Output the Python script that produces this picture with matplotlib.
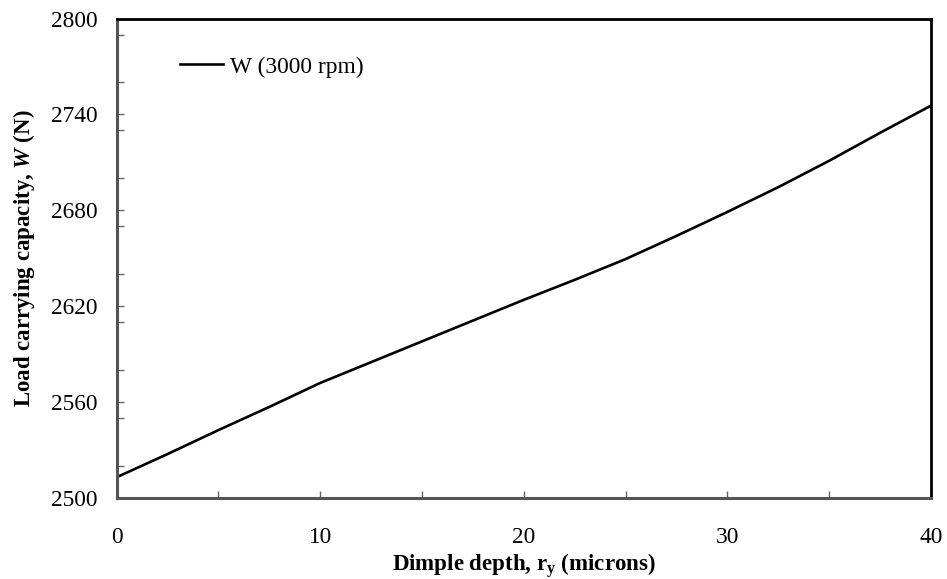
import matplotlib
matplotlib.use("Agg")
import matplotlib.pyplot as plt
from matplotlib.ticker import MultipleLocator

plt.rcParams['font.family'] = ['Liberation Serif', 'DejaVu Serif']
plt.rcParams['mathtext.fontset'] = 'custom'
plt.rcParams['mathtext.rm'] = 'Liberation Serif'
plt.rcParams['mathtext.it'] = 'Liberation Serif:italic'
plt.rcParams['mathtext.bf'] = 'Liberation Serif:bold'
plt.rcParams['mathtext.bfit'] = 'Liberation Serif:italic:bold'

# Data
dimple_depth = [0, 2.5, 5, 7.5, 10, 12.5, 15, 17.5, 20, 22.5, 25, 27.5, 30,
                32.5, 35, 37.5, 40]
load_capacity = [2513, 2527.5, 2542.5, 2557, 2572, 2585, 2598, 2611, 2624,
                 2636.5, 2649.5, 2664, 2679, 2694.5, 2711, 2728.5, 2745.5]
series_label = "W (3000 rpm)"
x_ticks = [0, 10, 20, 30, 40]
y_ticks = [2500, 2560, 2620, 2680, 2740, 2800]

fig = plt.figure(figsize=(9.47, 5.79), dpi=100)
ax = fig.add_axes([0.1232, 0.1399, 0.8599, 0.8281])

ax.plot(dimple_depth, load_capacity, color='black', lw=1.9, label=series_label)

ax.set_xlim(0, 40)
ax.set_ylim(2500, 2800)
ax.set_xticks(x_ticks)
ax.set_yticks(y_ticks)
ax.xaxis.set_minor_locator(MultipleLocator(5))
ax.yaxis.set_minor_locator(MultipleLocator(30))

ax.tick_params(axis='both', which='both', direction='in', length=5, width=1,
               color='#666666', labelsize=16.8)
ax.tick_params(axis='x', which='both', pad=21)
ax.tick_params(axis='y', which='both', pad=14)

for side in ['left', 'bottom']:
    ax.spines[side].set_color('#555555')
    ax.spines[side].set_linewidth(2.2)
for side in ['top', 'right']:
    ax.spines[side].set_color('black')
    ax.spines[side].set_linewidth(2.0)

ax.set_xlabel(r'Dimple depth, r$_\mathbf{y}$ (microns)', fontsize=16.5,
              fontweight='bold', labelpad=2)
ax.set_ylabel(r'Load carrying capacity, $\mathbfit{W}$ (N)', fontsize=16.5,
              fontweight='bold', labelpad=10)

leg = ax.legend(loc='center left', bbox_to_anchor=(0.0777, 0.899), frameon=False,
                borderpad=0, borderaxespad=0, handlelength=1.85, handletextpad=0.3,
                fontsize=16.8)

fig.savefig('out.png', dpi=100)
